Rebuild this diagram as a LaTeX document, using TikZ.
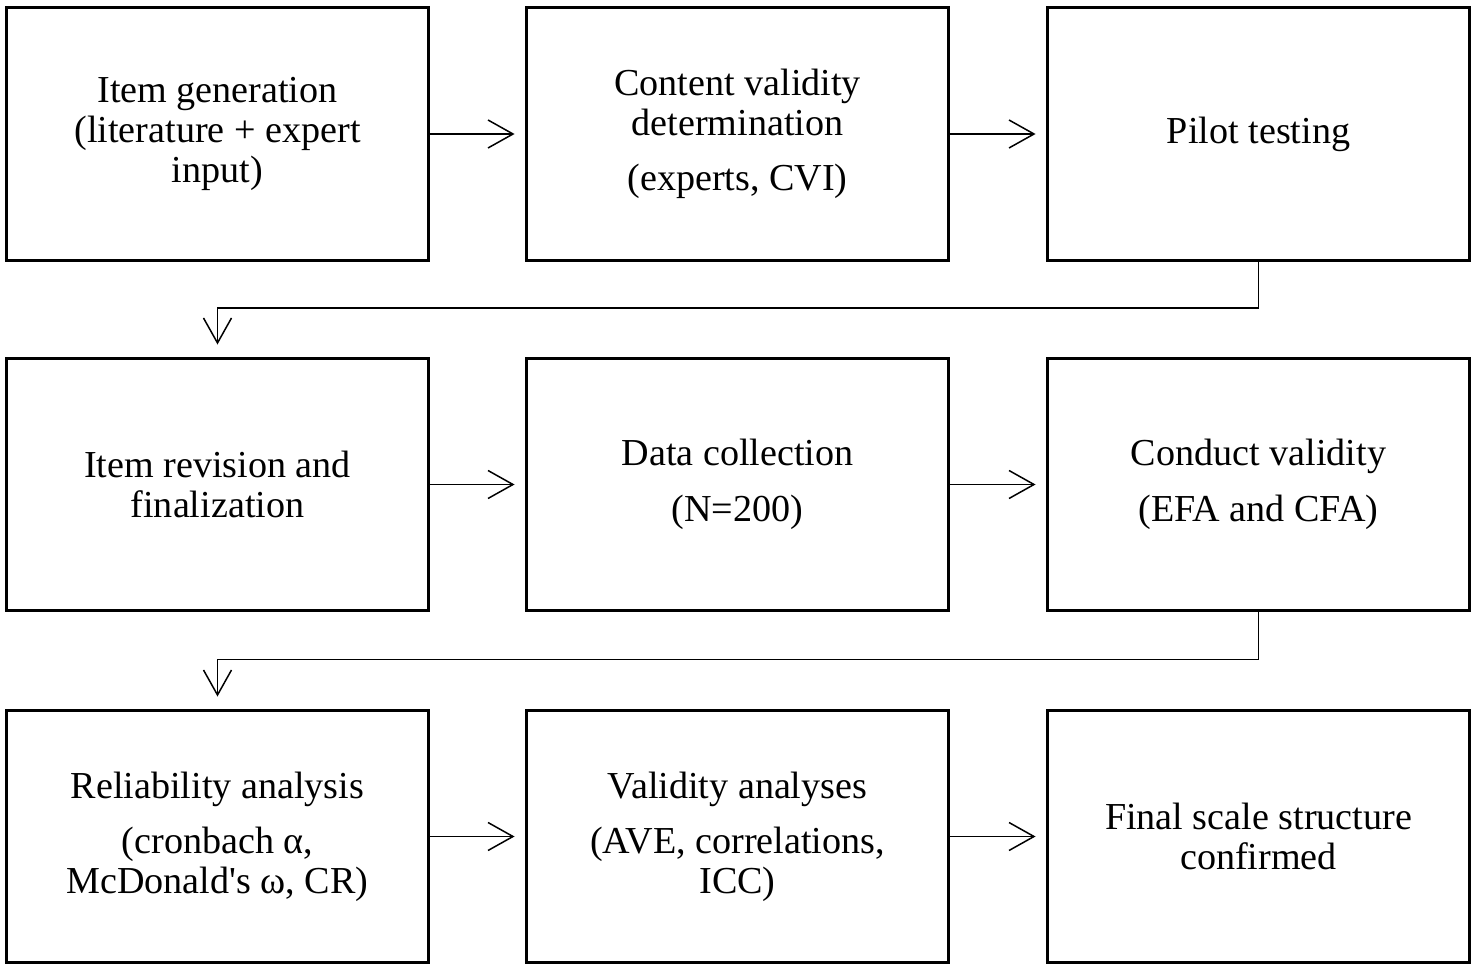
\documentclass[tikz,border=0pt]{standalone}
\usepackage{fontspec}
\setmainfont{Liberation Serif}
\usepackage{tikz}
\usetikzlibrary{arrows.meta}

\begin{document}
\begin{tikzpicture}[x=0.02cm,y=-0.02cm]
		\useasboundingbox (0,0) rectangle (1474,969);
		\begin{scope}[every node/.style={rectangle,draw,line width=0.06cm,align=center,
			minimum width=8.46cm, minimum height=5.06cm,
			font=\fontsize{21.7}{22.8}\selectfont}]
			\node (IG) at (217.5,134) {Item generation\\(literature + expert\\input)};
			\node (CV) at (737.5,134) {Content validity\\determination\\[0.3cm]
				(experts, CVI)};
			\node (PT) at (1258.5,134) {Pilot testing};
			\node (IR) at (217.5,484.5) {Item revision and\\finalization};
			\node (DC) at (737.5,484.5) {Data collection\\[0.32cm](N=200)};
			\node (CO) at (1258.5,484.5) {Conduct validity\\[0.32cm](EFA and CFA)};
			\node (RA) at (217.5,836.5) {Reliability analysis\\[0.3cm](cronbach α,\\
				McDonald\textquotesingle s ω, CR)};
			\node (VA) at (737.5,836.5) {Validity analyses\\[0.3cm](AVE, correlations,\\ICC)};
			\node (FS) at (1258.5,836.5) {Final scale structure\\confirmed};
		\end{scope}
		
		\tikzstyle{arrow} = [line width=0.03cm,-{Straight Barb[length=0.5cm,width=0.56cm]},color=black]
		\draw [arrow,shorten >=0.2cm] (IG) -- (CV);
		\draw [arrow,shorten >=0.2cm] (CV) -- (PT);
		\draw [arrow,shorten >=0.2cm] (IR) -- (DC);
		\draw [arrow,shorten >=0.2cm] (DC) -- (CO);
		\draw [arrow,shorten >=0.2cm] (RA) -- (VA);
		\draw [arrow,shorten >=0.2cm] (VA) -- (FS);
		
		\draw [arrow,shorten >=0.24cm] (PT.south) -- ++(0,46) -| (IR.north);
		\draw [arrow,shorten >=0.24cm] (CO.south) -- ++(0,47) -| (RA.north);
		
	\end{tikzpicture}
\end{document}
